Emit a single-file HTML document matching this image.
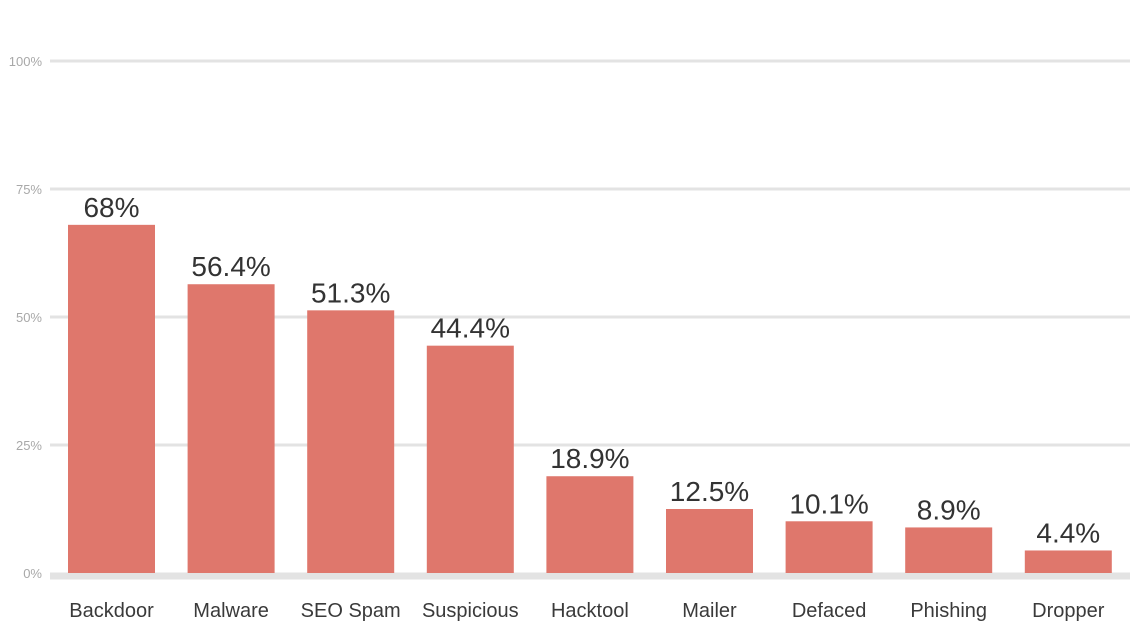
<!DOCTYPE html>
<html><head><meta charset="utf-8">
<style>
html,body{margin:0;padding:0;background:#fff;}
svg{display:block;font-family:"Liberation Sans",sans-serif;}
</style></head>
<body>
<svg id="chart" width="1138" height="643" viewBox="0 0 1138 643" xmlns="http://www.w3.org/2000/svg"></svg>
<script>
const categories = ["Backdoor","Malware","SEO Spam","Suspicious","Hacktool","Mailer","Defaced","Phishing","Dropper"];
const values = [68,56.4,51.3,44.4,18.9,12.5,10.1,8.9,4.4];
const valueLabels = ["68%","56.4%","51.3%","44.4%","18.9%","12.5%","10.1%","8.9%","4.4%"];
const ticks = [0,25,50,75,100];
const tickLabels = ["0%","25%","50%","75%","100%"];

const NS="http://www.w3.org/2000/svg";
const svg=document.getElementById('chart');
const y0=573, y100=61, gx0=50, gx1=1130, bx0=68, pitch=119.6, bw=87;
function y(v){return y0-(v/100)*(y0-y100);}
function x(i){return bx0+i*pitch;}
function mk(tag,attrs){const e=document.createElementNS(NS,tag);for(const k in attrs)e.setAttribute(k,attrs[k]);svg.appendChild(e);return e;}

ticks.forEach((t,i)=>{
  const g=mk('line',{x1:gx0,x2:gx1,y1:y(t)+(t===0?3:0),y2:y(t)+(t===0?3:0),stroke:'#e3e3e3','stroke-width':t===0?7:3});
  
  
  const l=mk('text',{x:42,y:y(t)+5,'text-anchor':'end','font-size':13,fill:'#a8a8a8'});
  l.textContent=tickLabels[i];
  
  
});

categories.forEach((c,i)=>{
  const r=mk('rect',{x:x(i),y:y(values[i]),width:bw,height:y0-y(values[i]),fill:'#df776c'});
  
  
  const v=mk('text',{x:x(i)+bw/2,y:y(values[i])-8,'text-anchor':'middle','font-size':28,fill:'#333'});
  v.textContent=valueLabels[i];
  
  
  const cl=mk('text',{x:x(i)+bw/2,y:617,'text-anchor':'middle','font-size':20,fill:'#3a3a3a'});
  cl.textContent=c;
  
  
});
</script>
</body></html>
